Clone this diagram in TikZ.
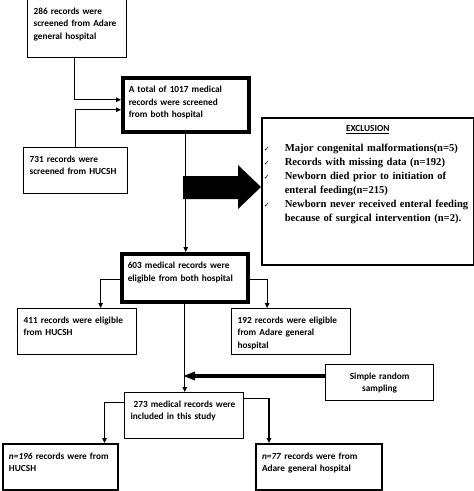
\documentclass[tikz,border=0pt]{standalone}
\usepackage{fontspec}
\setmainfont{Liberation Serif}
\setsansfont{Carlito}
\newfontfamily\symfont{DejaVu Sans}
\usetikzlibrary{arrows.meta}
\newcommand\chk{\makebox[21pt][l]{\symfont\fontsize{7}{14}\selectfont ✓}}
\begin{document}
\begin{tikzpicture}[x=1pt, y=-1pt, line width=1.2pt, >={Triangle[length=5pt,width=4.5pt]},
  rec/.style={draw, anchor=north west, align=left, inner xsep=6pt, inner ysep=0pt, text height=15pt,
    font=\sffamily\bfseries\fontsize{9.3}{12.3}\selectfont},
  heavy/.style={line width=3.5pt},
  mid/.style={line width=2pt}]
\useasboundingbox (0,0) rectangle (474,491);

\node[rec, text width=87pt, text depth=43pt] (adare) at (27,-1) {286 records were\\screened from Adare\\general hospital};
\node[rec, heavy, text width=114pt, text depth=39pt] (total) at (121,76) {A total of 1017 medical\\records were screened\\from both hospital};
\node[rec, text width=92pt, text depth=31pt] (hucsh) at (23,147) {731 records were\\screened from HUCSH};

\node[draw, anchor=north west, align=left, line width=1.5pt, inner xsep=2pt, inner ysep=0pt,
  text width=208pt, text height=14pt, text depth=133pt, font=\bfseries\fontsize{10.6}{14}\selectfont] (excl) at (261,117)
  {\makebox[\linewidth]{\sffamily\fontsize{9.3}{12}\selectfont\underline{EXCLUSION}}\\[6pt]
   \chk Major congenital malformations(n=5)\\
   \chk Records with missing data (n=192)\\
   \chk Newborn died prior to initiation of\\
   \hspace*{21pt}enteral feeding(n=215)\\
   \chk Newborn never received enteral feeding\\
   \hspace*{21pt}because of surgical intervention (n=2).};

\node[rec, heavy, text width=114pt, text depth=33pt] (eligible) at (120,252) {603 medical records were\\eligible from both hospital};
\node[rec, text width=107pt, text depth=31pt] (elighucsh) at (17,308) {411 records were eligible\\from HUCSH};
\node[rec, text width=107pt, text depth=31pt] (eligadare) at (231,308) {192 records were eligible\\from Adare general\\hospital};

\node[rec, align=center, text width=96pt, text depth=21pt] (srs) at (325,364) {Simple random\\sampling};
\node[rec, text width=107pt, text depth=31pt] (incl) at (124,392) {\hspace*{3pt}273 medical records were\\included in this study};
\node[rec, mid, text width=103pt, text depth=31pt] (nhucsh) at (2,443) {\textit{n=196} records were from\\HUCSH};
\node[rec, mid, text width=114pt, text depth=31pt] (nadare) at (255,443) {\textit{n=77} records were from\\Adare general hospital};

\draw[->] ([xshift=-2.5pt]adare.south) |- ([yshift=5pt]total.west);
\draw[->] (hucsh.north) |- ([yshift=-5pt]total.west);
\draw[->] (total.south) -- (total.south |- eligible.north);

% arrow to the exclusion box
\fill (183,176) -- (238,176) -- (238,165) -- (261,187) -- (238,209) -- (238,199) -- (183,199) -- cycle;

\draw[->] ([yshift=-2pt]eligible.west) -| ([xshift=23.5pt]elighucsh.north);
\draw[->] ([yshift=-2pt]eligible.east) -| ([xshift=-24pt]eligadare.north);
\draw[->] (eligible.south) -- (eligible.south |- incl.north);

\coordinate (join) at (183,376);
\draw[-{Triangle[length=12pt,width=8pt]}, line width=3.5pt] (srs.west |- join) -- (join);

\draw[->] ([yshift=13pt]incl.west) -| ([xshift=44pt]nhucsh.north);
\draw[->] ([yshift=17pt]incl.east) -| ([xshift=-50pt]nadare.north);
\end{tikzpicture}
\end{document}
